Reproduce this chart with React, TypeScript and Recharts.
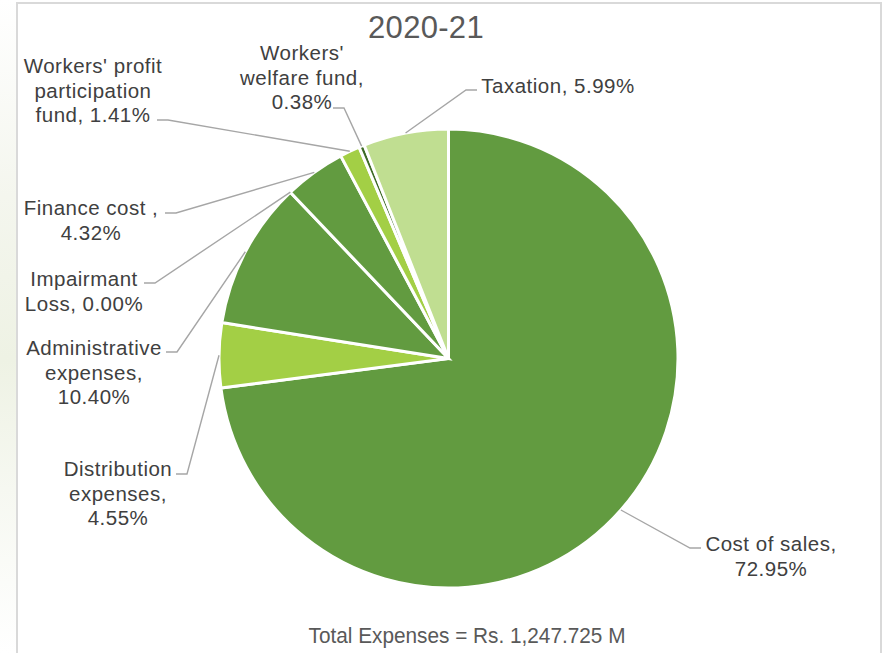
import { Cell, Pie, PieChart } from "recharts";

const categories = [
  "Cost of sales",
  "Distribution expenses",
  "Administrative expenses",
  "Impairmant Loss",
  "Finance cost ",
  "Workers' profit participation fund",
  "Workers' welfare fund",
  "Taxation",
];

const shares = [72.95, 4.55, 10.4, 0.0, 4.32, 1.41, 0.38, 5.99];

const labelLines = [
  ["Cost of sales,", "72.95%"],
  ["Distribution", "expenses,", "4.55%"],
  ["Administrative", "expenses,", "10.40%"],
  ["Impairmant", "Loss, 0.00%"],
  ["Finance cost ,", "4.32%"],
  ["Workers' profit", "participation", "fund, 1.41%"],
  ["Workers'", "welfare fund,", "0.38%"],
  ["Taxation, 5.99%"],
];

const COLORS = [
  "#629B40",
  "#A3CF45",
  "#629B40",
  "#629B40",
  "#629B40",
  "#A3CF45",
  "#3E6B27",
  "#C0DE91",
];

// where each data label sits (text centre, first line) and where its leader line meets it
const LABEL_LAYOUT = [
  { x: 771, y: 543, lx: 701, ly: 548, dir: -1 },
  { x: 118, y: 468, lx: 176, ly: 474, dir: 1 },
  { x: 94, y: 347, lx: 166, ly: 352, dir: 1 },
  { x: 84, y: 278, lx: 144, ly: 283, dir: 1 },
  { x: 91, y: 207, lx: 165, ly: 213, dir: 1 },
  { x: 93, y: 65, lx: 157, ly: 120, dir: 1 },
  { x: 302, y: 52, lx: 333, ly: 108, dir: 1 },
  { x: 558, y: 85, lx: 477, ly: 90, dir: -1 },
];

const data = categories.map((name, i) => ({ name, value: shares[i] }));

const FONT = "'Liberation Sans', Arial, sans-serif";

const renderLabel = (props: any) => {
  const { cx, cy, midAngle, outerRadius, index } = props;
  const layout = LABEL_LAYOUT[index];
  if (!layout) return null;
  const RADIAN = Math.PI / 180;
  const ex = cx + outerRadius * Math.cos(-midAngle * RADIAN);
  const ey = cy + outerRadius * Math.sin(-midAngle * RADIAN);
  const elbowX = layout.lx + layout.dir * 11;
  const lines = labelLines[index];
  return (
    <g key={`label-${index}`}>
      <polyline
        points={`${ex},${ey} ${elbowX},${layout.ly} ${layout.lx},${layout.ly}`}
        fill="none"
        stroke="#A6A6A6"
        strokeWidth={1.4}
      />
      <text
        x={layout.x}
        y={layout.y}
        textAnchor="middle"
        dominantBaseline="central"
        fill="#404040"
        fontSize={20.5}
        letterSpacing={0.5}
        fontFamily={FONT}
      >
        {lines.map((line, i) => (
          <tspan key={i} x={layout.x} dy={i === 0 ? 0 : 24.5}>
            {line}
          </tspan>
        ))}
      </text>
    </g>
  );
};

export default function App() {
  return (
    <div
      style={{
        position: "absolute",
        left: 0,
        top: 0,
        width: 885,
        height: 653,
        background: "#fff",
        overflow: "hidden",
      }}
    >
      {/* faint backdrop on the left edge */}
      <div
        style={{
          position: "absolute",
          left: 0,
          top: 0,
          width: 16,
          height: 653,
          background:
            "linear-gradient(180deg, #ffffff 0%, #f4f6ee 30%, #eef2e4 55%, #f6f8f1 75%, #ffffff 100%)",
        }}
      />
      <div
        style={{
          position: "absolute",
          left: 16,
          top: 2,
          width: 862,
          height: 670,
          border: "2px solid #D9D9D9",
          background: "#fff",
        }}
      />
      <div style={{ position: "absolute", left: 0, top: 0 }}>
        <PieChart width={885} height={653} margin={{ top: 0, right: 0, bottom: 0, left: 0 }}>
          <text
            x={426}
            y={27}
            textAnchor="middle"
            dominantBaseline="central"
            fill="#595959"
            fontSize={31}
            letterSpacing={0.3}
            fontFamily={FONT}
          >
            2020-21
          </text>
          <Pie
            data={data}
            dataKey="value"
            nameKey="name"
            cx={448.5}
            cy={358.5}
            outerRadius={229.5}
            startAngle={90}
            endAngle={-270}
            stroke="#ffffff"
            strokeWidth={3}
            labelLine={false}
            label={renderLabel}
            isAnimationActive={false}
          >
            {data.map((entry, index) => (
              <Cell key={`cell-${entry.name}`} fill={COLORS[index]} />
            ))}
          </Pie>
          <text
            x={467}
            y={635}
            textAnchor="middle"
            dominantBaseline="central"
            fill="#595959"
            fontSize={22}
            fontFamily={FONT}
            textLength={317}
            lengthAdjust="spacingAndGlyphs"
          >
            Total Expenses = Rs. 1,247.725 M
          </text>
        </PieChart>
      </div>
    </div>
  );
}
